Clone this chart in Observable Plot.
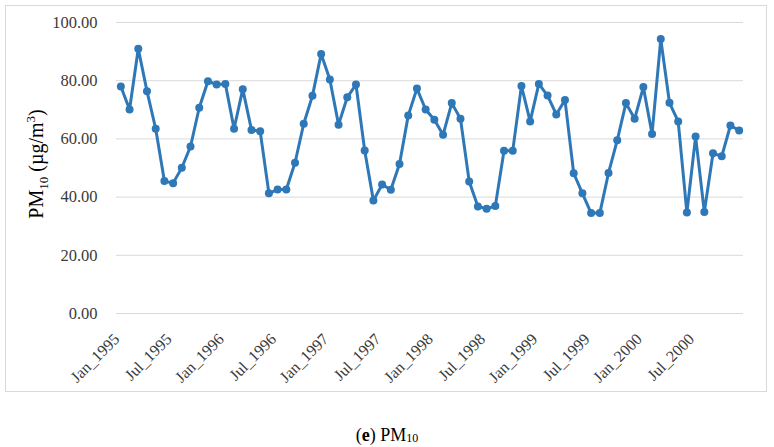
<!DOCTYPE html>
<html>
<head>
<meta charset="utf-8">
<script src="https://cdn.jsdelivr.net/npm/d3@7"></script>
<script src="https://cdn.jsdelivr.net/npm/@observablehq/plot@0.6"></script>
<style>
  html, body { margin: 0; padding: 0; background: #fff; width: 774px; height: 447px; overflow: hidden; }
  #frame { position: absolute; left: 5px; top: 5px; width: 762px; height: 387px; box-sizing: border-box; border: 1px solid #d9d9d9; }
  #frame svg { display: block; }
  #caption { position: absolute; left: 0; width: 774px; top: 426px; text-align: center; font-family: 'Liberation Serif', 'Times New Roman', serif; font-size: 18px; line-height: 1; color: #000; }
  #caption sub { font-size: 12px; vertical-align: -1px; }
</style>
</head>
<body>
<div id="frame"></div>
<div id="caption">(<b>e</b>) PM<sub>10</sub></div>
<script>
// Monthly PM10, Jan 1995 – Dec 2000
const pm10 = [
  78.0, 70.1, 91.0, 76.4, 63.5, 45.5, 44.8, 50.1, 57.4, 70.7, 79.8, 78.7,
  78.9, 63.5, 77.1, 63.1, 62.6, 41.3, 42.6, 42.6, 51.8, 65.2, 74.8, 89.2,
  80.4, 64.9, 74.3, 78.7, 56.0, 38.8, 44.3, 42.5, 51.4, 68.0, 77.3, 70.1,
  66.6, 61.4, 72.3, 66.9, 45.4, 36.8, 36.0, 36.9, 55.9, 55.9, 78.2, 66.0,
  78.9, 74.9, 68.4, 73.4, 48.2, 41.3, 34.5, 34.5, 48.3, 59.5, 72.3, 66.9,
  77.8, 61.7, 94.3, 72.4, 66.0, 34.7, 60.8, 34.9, 55.1, 54.0, 64.6, 62.9
];
const tickIndex = [0, 6, 12, 18, 24, 30, 36, 42, 48, 54, 60, 66];
const tickLabels = ["Jan_1995", "Jul_1995", "Jan_1996", "Jul_1996", "Jan_1997", "Jul_1997",
                    "Jan_1998", "Jul_1998", "Jan_1999", "Jul_1999", "Jan_2000", "Jul_2000"];
const yTicks = [0, 20, 40, 60, 80, 100];

const data = pm10.map((v, i) => ({i, v}));
const font = "'Liberation Serif', 'Times New Roman', serif";

const chart = Plot.plot({
  width: 760,
  height: 385,
  marginLeft: 110,
  marginRight: 23,
  marginTop: 16,
  marginBottom: 78,
  style: {fontFamily: font, fontSize: "16px", color: "#404040", background: "#fff"},
  x: {domain: [-0.5, 71.5], axis: null},
  y: {domain: [0, 100], axis: null},
  marks: [
    Plot.ruleY(yTicks, {stroke: "#d9d9d9", strokeWidth: 1}),
    Plot.axisY({ticks: yTicks, tickSize: 0, tickPadding: 19, tickFormat: d => d.toFixed(2), label: null, fontSize: 16.5, fontFamily: font, fill: "#3a3a3a"}),
    Plot.axisX({ticks: tickIndex, tickFormat: d => tickLabels[tickIndex.indexOf(d)], tickRotate: -45, tickSize: 0, tickPadding: 23, dx: -4, label: null, fontSize: 16, fontFamily: font, fill: "#3a3a3a"}),
    Plot.line(data, {x: "i", y: "v", stroke: "#2e78b8", strokeWidth: 3}),
    Plot.dot(data, {x: "i", y: "v", fill: "#2e78b8", r: 4})
  ]
});

document.getElementById("frame").appendChild(chart);

const t = d3.select(chart).append("text")
  .attr("transform", "translate(30,158) rotate(-90)")
  .attr("text-anchor", "middle")
  .attr("dy", "0.35em")
  .attr("fill", "#000")
  .style("font-family", font)
  .style("font-size", "20px");
t.append("tspan").text("PM");
t.append("tspan").attr("dy", "5").style("font-size", "13px").text("10");
t.append("tspan").attr("dy", "-5").text(" (µg/m");
t.append("tspan").attr("dy", "-8").style("font-size", "13px").text("3");
t.append("tspan").attr("dy", "8").text(")");
</script>
</body>
</html>
